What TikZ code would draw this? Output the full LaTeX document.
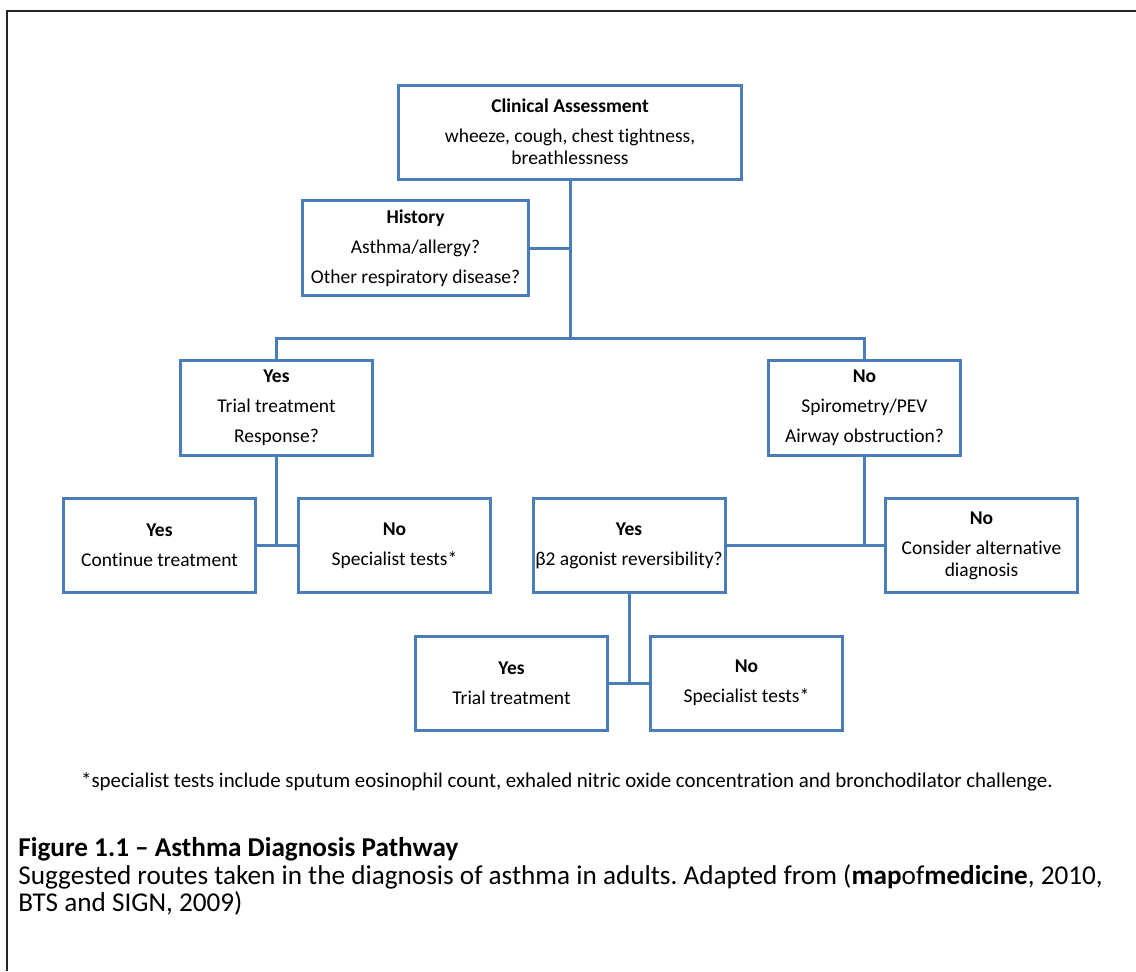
\documentclass[tikz,border=0pt]{standalone}
\usepackage{fontspec}
\setmainfont{Carlito}[Ligatures=NoCommon]
\frenchspacing
\definecolor{boxblue}{HTML}{4A7EBB}
\tikzset{
  box/.style 2 args={draw=boxblue, line width=1.5pt, fill=white, align=center,
    inner sep=0pt, minimum width=#1*0.5pt-1.5pt, minimum height=#2*0.5pt-1.5pt,
    font=\fontsize{9.75pt}{11.9pt}\selectfont},
  conn/.style={draw=boxblue, line width=1.5pt},
  frameline/.style={draw=black!85, line width=1pt},
  foot/.style={font=\fontsize{10.45pt}{12.5pt}\selectfont, inner sep=0pt},
  capline/.style={font=\fontsize{13.6pt}{16pt}\selectfont, inner sep=0pt, anchor=base west}
}
\newcommand{\pgap}{\\[3.1pt]}
\newcommand{\wrapbr}{\\[-0.9pt]}
\begin{document}
\begin{tikzpicture}[x=0.5pt, y=-0.5pt]
\useasboundingbox (0,0) rectangle (1136,971);
\draw[frameline] (7,971) -- (7,11) -- (1136,11);

\node[box={346}{97}] (clin) at (570,132) {\textbf{Clinical Assessment}\pgap wheeze, cough, chest tightness,\wrapbr breathlessness};
\node[box={229}{98}] (hist) at (415.5,248) {\textbf{History}\pgap Asthma/allergy?\pgap Other respiratory disease?};
\node[box={195}{98}] (yes1) at (276.5,408) {\textbf{Yes}\pgap Trial treatment\pgap Response?};
\node[box={195}{98}] (no1) at (864.5,408) {\textbf{No}\pgap Spirometry/PEV\pgap Airway obstruction?};
\node[box={195}{97}] (cont) at (159.5,545.5) {\textbf{Yes}\pgap Continue treatment};
\node[box={195}{97}] (spec1) at (394.5,545.5) {\textbf{No}\pgap Specialist tests*};
\node[box={195}{97}] (beta) at (629,545.5) {\textbf{Yes}\pgap β2 agonist reversibility?};
\node[box={195}{97}] (alt) at (981.5,545.5) {\textbf{No}\pgap Consider alternative\wrapbr diagnosis};
\node[box={195}{97}] (trial2) at (511.5,683) {\textbf{Yes}\pgap Trial treatment};
\node[box={195}{97}] (spec2) at (746.5,683) {\textbf{No}\pgap Specialist tests*};

\coordinate (j1) at (570,338);
\draw[conn] (clin.south) -- (j1);
\draw[conn] (hist.east) -- (hist.east -| clin.south);
\draw[conn] (yes1.north) |- (j1) -| (no1.north);
\draw[conn] (yes1.south) -- (yes1.south |- cont.east);
\draw[conn] (cont.east) -- (spec1.west);
\draw[conn] (no1.south) -- (no1.south |- alt.west);
\draw[conn] (beta.east) -- (alt.west);
\draw[conn] (beta.south) -- (beta.south |- trial2.east);
\draw[conn] (trial2.east) -- (spec2.west);

\node[foot] (fn) at (567,782) {*specialist tests include sputum eosinophil count, exhaled nitric oxide concentration and bronchodilator challenge.};
\node[capline] (cap1) at (18,856) {\textbf{Figure 1.1 – Asthma Diagnosis Pathway}};
\node[capline] (cap2) at (18,884) {Suggested routes taken in the diagnosis of asthma in adults. Adapted from (\textbf{map}of\textbf{medicine}, 2010,};
\node[capline] (cap3) at (18,911) {BTS and SIGN, 2009)};
\end{tikzpicture}
\end{document}
